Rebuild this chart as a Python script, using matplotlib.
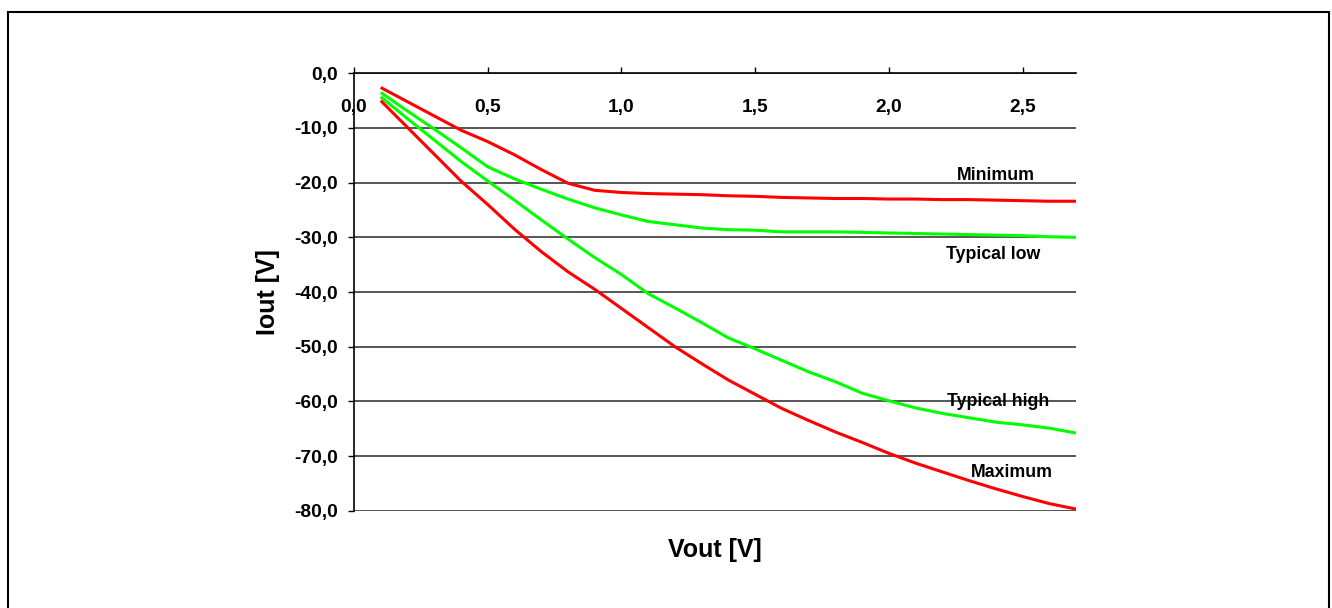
import matplotlib
matplotlib.use("Agg")
import matplotlib.pyplot as plt
from matplotlib.patches import Rectangle

plt.rcParams['font.family'] = ['Liberation Sans', 'DejaVu Sans']

vout = [0.1, 0.2, 0.3, 0.4, 0.5, 0.6, 0.7, 0.8, 0.9, 1.0, 1.1, 1.2, 1.3, 1.4,
        1.5, 1.6, 1.7, 1.8, 1.9, 2.0, 2.1, 2.2, 2.3, 2.4, 2.5, 2.6, 2.7]

minimum = [-2.6, -5.2, -7.8, -10.4, -12.5, -14.9, -17.6, -20.1, -21.4, -21.8,
           -22.0, -22.1, -22.2, -22.4, -22.5, -22.7, -22.8, -22.9, -22.9, -23.0,
           -23.0, -23.1, -23.1, -23.2, -23.3, -23.4, -23.4]
typical_low = [-3.5, -6.9, -10.2, -13.6, -17.1, -19.3, -21.2, -23.0, -24.6, -25.9,
               -27.1, -27.7, -28.3, -28.6, -28.7, -29.0, -29.0, -29.0, -29.1, -29.2,
               -29.3, -29.4, -29.5, -29.6, -29.7, -29.9, -30.0]
typical_high = [-4.3, -8.3, -12.2, -16.1, -19.7, -23.2, -26.8, -30.3, -33.7, -36.8,
                -40.3, -42.9, -45.6, -48.4, -50.4, -52.5, -54.6, -56.4, -58.5, -59.9,
                -61.2, -62.2, -63.0, -63.8, -64.3, -64.9, -65.8]
maximum = [-5.0, -9.9, -14.8, -19.7, -24.0, -28.5, -32.6, -36.3, -39.5, -43.0,
           -46.5, -50.0, -53.1, -56.1, -58.7, -61.3, -63.5, -65.6, -67.5, -69.5,
           -71.3, -72.9, -74.5, -76.0, -77.4, -78.7, -79.7]

x_ticks = [0.0, 0.5, 1.0, 1.5, 2.0, 2.5]
x_tick_labels = ["0,0", "0,5", "1,0", "1,5", "2,0", "2,5"]
y_ticks = [0, -10, -20, -30, -40, -50, -60, -70, -80]
y_tick_labels = ["0,0", "-10,0", "-20,0", "-30,0", "-40,0", "-50,0", "-60,0", "-70,0", "-80,0"]

series = [
    ("Minimum", minimum, "#FF0000", (2.40, -19.6)),
    ("Typical low", typical_low, "#00FF00", (2.39, -34.0)),
    ("Typical high", typical_high, "#00FF00", (2.41, -60.8)),
    ("Maximum", maximum, "#FF0000", (2.46, -73.8)),
]

W, H = 1332, 608
fig = plt.figure(figsize=(W / 100, H / 100), dpi=100)
fig.patch.set_facecolor("white")

# outer frame
fig.patches.append(Rectangle((8 / W, -0.02), (1329 - 8) / W, 1 - 12 / H + 0.02,
                             transform=fig.transFigure, fill=False,
                             edgecolor="black", linewidth=1.5))

ax = fig.add_axes([354 / W, 1 - 510.7 / H, (1076 - 354) / W, (510.7 - 73.3) / H])
ax.set_facecolor("white")

for name, vals, color, pos in series:
    ax.plot(vout, vals, color=color, linewidth=2.2, solid_capstyle="butt",
            solid_joinstyle="round", zorder=3)
    ax.text(pos[0], pos[1], name, ha="center", va="baseline",
            fontsize=12.8, fontweight="bold", color="black", zorder=4)

ax.set_xlim(0, 2.7)
ax.set_ylim(-80, 0)

ax.set_yticks(y_ticks)
ax.set_yticklabels(y_tick_labels)
ax.set_xticks(x_ticks)
ax.set_xticklabels(x_tick_labels)

ax.yaxis.grid(True, color="#3a3a3a", linewidth=1.2, zorder=1)
ax.xaxis.grid(False)
ax.set_axisbelow(True)

for s in ["right", "bottom"]:
    ax.spines[s].set_visible(False)
ax.spines["top"].set_color("black")
ax.spines["top"].set_linewidth(1.2)
ax.spines["left"].set_color("black")
ax.spines["left"].set_linewidth(1.2)

ax.tick_params(axis="y", direction="out", length=4.3, width=1.0, pad=7,
               labelsize=13.8, colors="black")
for lbl in ax.get_yticklabels():
    lbl.set_fontweight("bold")

ax.tick_params(axis="x", top=True, bottom=False, labeltop=True, labelbottom=False,
               direction="out", length=4.3, width=1.0, pad=-35, labelsize=13.8)
for lbl in ax.get_xticklabels():
    lbl.set_fontweight("bold")

fig.text(715 / W, 1 - 550 / H, "Vout [V]", ha="center", va="center",
         fontsize=18, fontweight="bold")
fig.text(268 / W, 1 - 292 / H, "Iout [V]", ha="center", va="center",
         fontsize=18, fontweight="bold", rotation=90)

fig.savefig("out.png", dpi=100, facecolor="white")
